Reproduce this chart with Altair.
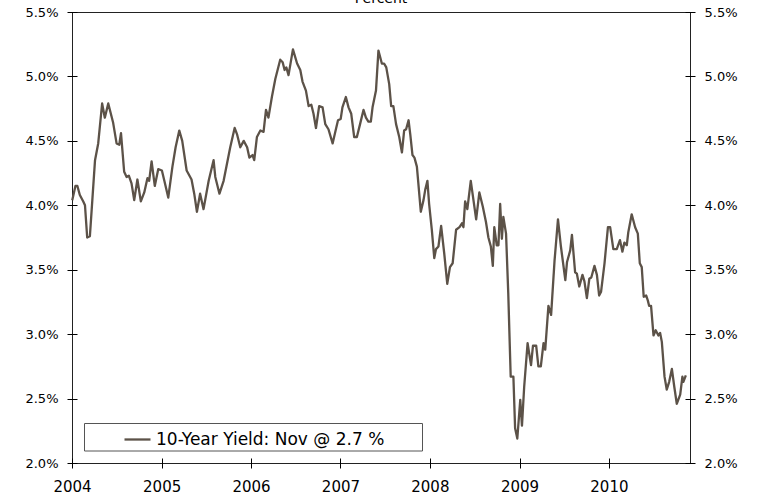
import altair as alt
import pandas as pd

# Weekly-ish 10-year Treasury yield, percent
dates = [
    "2004-01-02", "2004-01-15", "2004-01-23", "2004-02-02", "2004-02-16", "2004-02-23",
    "2004-03-03", "2004-03-14", "2004-03-24", "2004-04-04", "2004-04-17", "2004-05-03",
    "2004-05-14", "2004-05-28", "2004-06-17", "2004-07-01", "2004-07-12", "2004-07-19",
    "2004-08-01", "2004-08-11", "2004-08-20", "2004-08-31", "2004-09-11", "2004-09-24",
    "2004-10-08", "2004-10-22", "2004-11-04", "2004-11-11", "2004-11-21", "2004-12-04",
    "2004-12-18",
    "2005-01-02", "2005-01-12", "2005-01-28", "2005-02-14", "2005-02-27", "2005-03-14",
    "2005-03-26", "2005-04-13", "2005-05-03", "2005-05-14", "2005-05-25", "2005-06-07",
    "2005-06-21", "2005-07-12", "2005-08-01", "2005-08-08", "2005-08-25", "2005-09-11",
    "2005-10-08", "2005-10-26", "2005-11-05", "2005-11-18", "2005-12-02", "2005-12-16",
    "2005-12-25",
    "2006-01-07", "2006-01-14", "2006-01-25", "2006-02-08", "2006-02-21", "2006-03-03",
    "2006-03-13", "2006-03-27", "2006-04-10", "2006-04-30", "2006-05-10", "2006-05-18",
    "2006-05-25", "2006-06-03", "2006-06-21", "2006-07-08", "2006-07-21", "2006-07-30",
    "2006-08-13", "2006-08-24", "2006-09-04", "2006-09-13", "2006-09-23", "2006-10-06",
    "2006-10-20", "2006-10-31", "2006-11-13", "2006-11-30", "2006-12-11", "2006-12-22",
    "2007-01-02", "2007-01-09", "2007-01-23", "2007-02-03", "2007-02-14", "2007-02-26",
    "2007-03-09", "2007-03-22", "2007-04-05", "2007-04-15", "2007-04-25", "2007-05-05",
    "2007-05-12", "2007-05-26", "2007-06-05", "2007-06-19", "2007-06-28", "2007-07-07",
    "2007-07-19", "2007-07-27", "2007-08-05", "2007-08-16", "2007-08-29", "2007-09-09",
    "2007-09-18", "2007-09-26", "2007-10-06", "2007-10-13", "2007-10-22", "2007-10-30",
    "2007-11-09", "2007-11-15", "2007-11-25", "2007-12-06", "2007-12-13", "2007-12-22",
    "2007-12-29",
    "2008-01-09", "2008-01-19", "2008-01-26", "2008-02-05", "2008-02-16", "2008-02-29",
    "2008-03-12", "2008-03-23", "2008-04-03", "2008-04-17", "2008-05-01", "2008-05-11",
    "2008-05-17", "2008-05-24", "2008-06-02", "2008-06-16", "2008-06-27", "2008-07-08",
    "2008-07-21", "2008-08-04", "2008-08-17", "2008-08-27", "2008-09-06", "2008-09-14",
    "2008-09-20", "2008-09-30", "2008-10-07", "2008-10-14", "2008-10-21", "2008-10-27",
    "2008-11-07", "2008-11-16", "2008-11-26", "2008-12-07", "2008-12-14", "2008-12-23",
    "2009-01-04", "2009-01-11", "2009-01-20", "2009-02-03", "2009-02-17", "2009-02-25",
    "2009-03-10", "2009-03-19", "2009-03-29", "2009-04-09", "2009-04-16", "2009-04-29",
    "2009-05-10", "2009-05-24", "2009-06-07", "2009-06-19", "2009-07-07", "2009-07-14",
    "2009-07-27", "2009-08-03", "2009-08-16", "2009-08-23", "2009-09-02", "2009-09-15",
    "2009-09-23", "2009-10-03", "2009-10-13", "2009-10-21", "2009-11-03", "2009-11-13",
    "2009-11-22", "2009-11-30", "2009-12-14", "2009-12-28",
    "2010-01-06", "2010-01-19", "2010-02-02", "2010-02-15", "2010-02-25", "2010-03-05",
    "2010-03-15", "2010-03-21", "2010-04-04", "2010-04-18", "2010-04-29", "2010-05-07",
    "2010-05-15", "2010-05-23", "2010-06-02", "2010-06-09", "2010-06-14", "2010-06-22",
    "2010-07-02", "2010-07-11", "2010-07-22", "2010-07-29", "2010-08-05", "2010-08-16",
    "2010-08-25", "2010-09-04", "2010-09-15", "2010-09-25", "2010-10-05", "2010-10-19",
    "2010-10-28", "2010-11-01", "2010-11-11",
]

yields = [
    4.04, 4.15, 4.15, 4.08, 4.03, 4.00,
    3.75, 3.76, 4.04, 4.35, 4.48, 4.79,
    4.68, 4.79, 4.64, 4.48, 4.47, 4.56,
    4.26, 4.22, 4.23, 4.17, 4.04, 4.20,
    4.03, 4.10, 4.21, 4.19, 4.34, 4.15,
    4.28,
    4.27, 4.19, 4.06, 4.30, 4.45, 4.58,
    4.50, 4.27, 4.20, 4.09, 3.95, 4.09,
    3.97, 4.19, 4.35, 4.22, 4.09, 4.19,
    4.45, 4.60, 4.55, 4.45, 4.50, 4.45,
    4.37,
    4.39, 4.35, 4.53, 4.58, 4.57, 4.74,
    4.68, 4.84, 4.98, 5.13, 5.11, 5.05,
    5.07, 5.01, 5.21, 5.10, 5.05, 4.96,
    4.89, 4.77, 4.78, 4.71, 4.60, 4.77,
    4.76, 4.63, 4.59, 4.48, 4.57, 4.66,
    4.67, 4.76, 4.84, 4.76, 4.71, 4.53,
    4.53, 4.63, 4.74, 4.68, 4.65, 4.65,
    4.76, 4.89, 5.20, 5.10, 5.10, 5.07,
    4.94, 4.77, 4.77, 4.63, 4.53, 4.41,
    4.58, 4.59, 4.66, 4.55, 4.39, 4.37,
    4.30, 4.17, 3.95, 4.04, 4.12, 4.19,
    4.01,
    3.81, 3.59, 3.66, 3.68, 3.84, 3.62,
    3.39, 3.52, 3.55, 3.81, 3.83, 3.86,
    3.83, 4.03, 3.97, 4.19, 4.04, 3.89,
    4.10, 3.99, 3.87, 3.75, 3.68, 3.53,
    3.83, 3.69, 3.69, 4.01, 3.74, 3.91,
    3.78, 3.32, 2.67, 2.67, 2.27, 2.19,
    2.49, 2.29, 2.59, 2.93, 2.76, 2.91,
    2.91, 2.75, 2.75, 2.93, 2.88, 3.22,
    3.15, 3.57, 3.89, 3.68, 3.42, 3.56,
    3.65, 3.77, 3.48, 3.47, 3.37, 3.46,
    3.41, 3.28, 3.43, 3.44, 3.53, 3.46,
    3.30, 3.33, 3.55, 3.83,
    3.83, 3.66, 3.66, 3.73, 3.64, 3.71,
    3.69, 3.79, 3.93, 3.83, 3.78, 3.55,
    3.52, 3.29, 3.30, 3.26, 3.22, 3.22,
    2.99, 3.03, 2.99, 3.01, 2.94, 2.67,
    2.57, 2.63, 2.73, 2.59, 2.46, 2.53,
    2.67, 2.63, 2.68,
]

series_name = "10-Year Yield: Nov @ 2.7 %"
year_ticks = [2004, 2005, 2006, 2007, 2008, 2009, 2010]
pct_ticks = [2.0, 2.5, 3.0, 3.5, 4.0, 4.5, 5.0, 5.5]

LINE = "#5C5248"
FONT = "DejaVu Sans"

df = pd.DataFrame({"date": dates, "yield": yields, "series": series_name})

x_enc = alt.X(
    "date:T",
    scale=alt.Scale(
        type="utc",
        domain=[alt.DateTime(year=2004, month=1, date=1, utc=True),
                alt.DateTime(year=2010, month=11, date=28, utc=True)],
    ),
    axis=alt.Axis(
        title=None,
        values=[alt.DateTime(year=y, month=1, date=1, utc=True) for y in year_ticks],
        format="%Y",
        domain=False,
        grid=False,
        offset=-5,
        tickSize=10,
        tickColor="#000",
        labelPadding=11,
        labelFlush=False,
        labelFontSize=15,
    ),
)

pct_label = "format(datum.value, '.1f') + '%'"


def y_enc(orient):
    return alt.Y(
        "yield:Q",
        scale=alt.Scale(domain=[2.0, 5.5], nice=False, zero=False),
        axis=alt.Axis(
            title=None,
            orient=orient,
            values=pct_ticks,
            labelExpr=pct_label,
            domain=False,
            grid=False,
            offset=-5,
            tickSize=10,
            tickColor="#000",
            labelPadding=9,
            labelFontSize=13,
        ),
    )


base = alt.Chart(df)

line = base.mark_line(strokeWidth=2.3, strokeJoin="round").encode(
    x=x_enc,
    y=y_enc("left"),
    color=alt.Color(
        "series:N",
        scale=alt.Scale(range=[LINE]),
        legend=alt.Legend(
            title=None,
            orient="none",
            legendX=51,
            legendY=413,
            padding=0,
            symbolType="stroke",
            symbolSize=676,
            symbolStrokeWidth=2.3,
            labelFont=FONT,
            labelFontSize=17,
            labelColor="#000",
            labelOffset=4,
            labelLimit=0,
        ),
    ),
)

right_axis = base.mark_line(strokeOpacity=0).encode(x=x_enc, y=y_enc("right"))

legend_box = alt.Chart(pd.DataFrame({"k": [0]})).mark_rect(
    fill="white", stroke="#555", strokeWidth=1
).encode(
    x=alt.value(12.5), x2=alt.value(350.5), y=alt.value(411.5), y2=alt.value(439)
)

heading = alt.Chart(pd.DataFrame({"t": ["Percent"]})).mark_text(
    font=FONT, fontSize=14, color="#000", baseline="alphabetic", align="center"
).encode(text="t:N", x=alt.value(309), y=alt.value(-9))

chart = (
    alt.layer(legend_box, line, right_axis, heading)
    .resolve_axis(y="independent")
    .properties(
        width=618,
        height=451,
        autosize=alt.AutoSizeParams(type="none"),
        padding={"left": 72, "top": 12, "right": 73, "bottom": 36},
    )
    .configure_view(stroke="#222", strokeWidth=1)
    .configure_axis(labelFont=FONT, labelColor="#000", tickWidth=1)
)

chart.save("out.html", embed_options={"renderer": "svg", "actions": False})
